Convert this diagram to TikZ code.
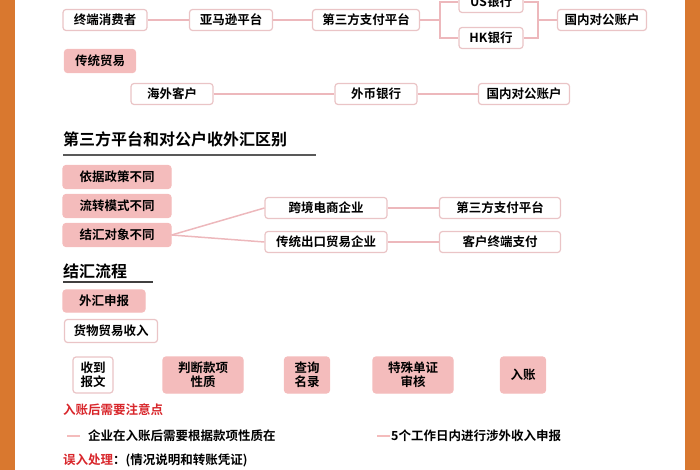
\documentclass[tikz,border=0pt]{standalone}
\usepackage{fontspec}
\setmainfont{Noto Sans CJK SC}[BoldFont={* Bold}]
\definecolor{org}{HTML}{D9782F}
\definecolor{pk}{HTML}{F4BCBC}
\definecolor{pkb}{HTML}{EAC4C6}
\definecolor{ln}{HTML}{EDB8BC}
\definecolor{rd}{HTML}{D8262B}
\begin{document}
\begin{tikzpicture}[x=1pt,y=-1pt,
  wb/.style={draw=pkb,line width=1.2pt,rounded corners=3pt,fill=white,inner sep=0pt,minimum height=21pt,font=\bfseries\fontsize{12.5}{14}\selectfont},
  pb/.style={wb,fill=pk,draw=pk},
  cn/.style={draw=ln,line width=2.5pt},
  hd/.style={font=\bfseries\fontsize{16}{18}\selectfont,anchor=west,inner sep=0pt}]
\useasboundingbox (0,0) rectangle (700,470);
\fill[org] (0,0) rectangle (15,470);
\fill[org] (685,0) rectangle (700,470);
% row1
\node[wb,minimum width=84pt] (a1) at (105,20) {终端消费者};
\node[wb,minimum width=83pt] (a2) at (231,20) {亚马逊平台};
\node[wb,minimum width=107pt] (a3) at (366,20) {第三方支付平台};
\node[wb,minimum width=64pt] (us) at (491,2) {US银行};
\node[wb,minimum width=64pt] (hk) at (491,38) {HK银行};
\node[wb,minimum width=89pt] (a5) at (602,20) {国内对公账户};
\coordinate (b1) at (440,20);
\coordinate (b2) at (538,20);
\draw[cn] (a1)--(a2); \draw[cn] (a2)--(a3); \draw[cn] (a3)--(b1);
\draw[cn] (us.west) -| (b1) |- (hk.west);
\draw[cn] (us.east) -| (b2) |- (hk.east);
\draw[cn] (b2)--(a5);
\node[pb,minimum width=71pt,minimum height=23pt] (ct) at (100,61) {传统贸易};
\node[wb,minimum width=82pt] (c1) at (172,94) {海外客户};
\node[wb,minimum width=82pt] (c2) at (376,94) {外币银行};
\node[wb,minimum width=91pt] (c3) at (524,94) {国内对公账户};
\draw[cn] (c1)--(c2); \draw[cn] (c2)--(c3);
% heading
\node[hd] (h1) at (63,139) {第三方平台和对公户收外汇区别};
\draw[line width=2.5pt,draw=black!65] (63,155)--(316,155);
\node[pb,minimum width=108pt,minimum height=23pt] (d1) at (117,177) {依据政策不同};
\node[pb,minimum width=108pt,minimum height=23pt] (d2) at (117,206) {流转模式不同};
\node[pb,minimum width=108pt,minimum height=23pt] (d3) at (117,235) {结汇对象不同};
\node[wb,minimum width=122pt] (e1) at (326,208) {跨境电商企业};
\node[wb,minimum width=122pt] (e2) at (326,242) {传统出口贸易企业};
\node[wb,minimum width=121pt] (f1) at (500,208) {第三方支付平台};
\node[wb,minimum width=121pt] (f2) at (500,242) {客户终端支付};
\draw[cn,line width=1.5pt] (d3.east)--(e1.west);
\draw[cn,line width=1.5pt] (d3.east)--(e2.west);
\draw[cn,line width=1.5pt] (e1)--(f1); \draw[cn,line width=1.5pt] (e2)--(f2);
\node[hd] (h2) at (63,271) {结汇流程};
\draw[line width=2pt,draw=black!75] (63,282)--(153,282);
\node[pb,minimum width=82pt,minimum height=22pt] (g1) at (104,301) {外汇申报};
\node[wb,minimum width=93pt,minimum height=23pt] (g2) at (111,331) {货物贸易收入};
\tikzset{tb/.style={align=center,minimum height=36pt,font=\bfseries\fontsize{12.5}{14}\selectfont}}
\node[wb,tb,minimum width=40pt] (p1) at (93,375) {收到\\报文};
\node[pb,tb,minimum width=80pt] (p2) at (203,375) {判断款项\\性质};
\node[pb,tb,minimum width=45pt] (p3) at (307,375) {查询\\名录};
\node[pb,tb,minimum width=80pt] (p4) at (413,375) {特殊单证\\审核};
\node[pb,tb,minimum width=45pt] (p5) at (523,375) {入账};
\node[anchor=west,inner sep=0pt,text=rd,font=\bfseries\fontsize{12.5}{14}\selectfont] (r1) at (63,410) {入账后需要注意点};
\draw[line width=2.5pt,draw=pk] (67,436)--(80,436);
\node[anchor=west,inner sep=0pt,font=\bfseries\fontsize{12.5}{14}\selectfont] (t1) at (88,436) {企业在入账后需要根据款项性质在};
\draw[line width=2.5pt,draw=pk] (377,436)--(390,436);
\node[anchor=west,inner sep=0pt,font=\bfseries\fontsize{12.5}{14}\selectfont] (t2) at (391,436) {5个工作日内进行涉外收入申报};
\node[anchor=west,inner sep=0pt,font=\bfseries\fontsize{12.5}{14}\selectfont] (t3) at (63,460) {\textcolor{rd}{误入处理}：(情况说明和转账凭证)};
\end{tikzpicture}
\end{document}
